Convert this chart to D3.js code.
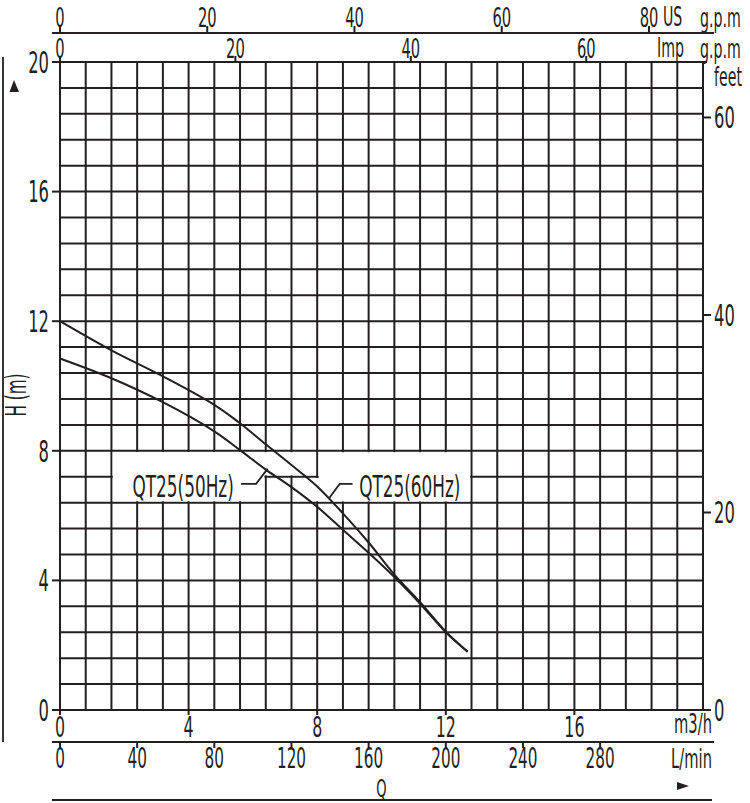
<!DOCTYPE html>
<html><head><meta charset="utf-8">
<script src="https://cdn.jsdelivr.net/npm/d3@7"></script>
<style>html,body{margin:0;padding:0;background:#fff;}svg{display:block;}</style>
</head><body>
<script>
// ---- data ----
const flowTicks = [0, 4, 8, 12, 16];                 // m3/h
const lpmTicks = [0, 40, 80, 120, 160, 200, 240, 280]; // L/min
const usTicks = [0, 20, 40, 60, 80];                 // US g.p.m
const impTicks = [0, 20, 40, 60];                    // Imp g.p.m
const headTicks = [0, 4, 8, 12, 16, 20];             // m
const feetTicks = [0, 20, 40, 60];                   // feet

const flow60 = [0, 1.6, 3.2, 4.8, 5.6, 6.4, 7.2, 8.0, 8.8, 9.6, 10.4, 11.2, 12.0, 12.68];
const head60 = [12.0, 11.1, 10.3, 9.42, 8.85, 8.2, 7.56, 6.9, 6.07, 5.17, 4.18, 3.33, 2.42, 1.8];
const flow50 = [0, 1.6, 3.2, 4.8, 5.6, 6.4, 7.2, 8.0, 8.8, 9.6, 10.4, 11.2, 12.0, 12.68];
const head50 = [10.85, 10.24, 9.5, 8.6, 8.02, 7.42, 6.88, 6.27, 5.56, 4.85, 4.1, 3.28, 2.4, 1.8];

const label50 = "QT25(50Hz)";
const label60 = "QT25(60Hz)";

const FLOW_MAX = 20, HEAD_MAX = 20, GRID_STEP = 0.8;
const LPM_PER_M3H = 1000 / 60;
const M3H_PER_USGPM = 0.229;
const M3H_PER_IMPGPM = 0.2728;
const FT_PER_M = 3.28084;

// ---- setup ----
const W = 750, H = 803;
const INK = "#231f20";
const FONT = "'Liberation Sans Narrow','DejaVu Sans Condensed','Liberation Sans',sans-serif";
const svg = d3.select("body").append("svg").attr("width", W).attr("height", H)
  .attr("font-family", FONT).attr("fill", INK);

const x = d3.scaleLinear().domain([0, FLOW_MAX]).range([60, 703]);
const y = d3.scaleLinear().domain([0, HEAD_MAX]).range([710, 62]);
const xL = d3.scaleLinear().domain([0, FLOW_MAX * LPM_PER_M3H]).range(x.range());
const xUS = d3.scaleLinear().domain([0, FLOW_MAX / M3H_PER_USGPM]).range(x.range());
const xImp = d3.scaleLinear().domain([0, FLOW_MAX / M3H_PER_IMPGPM]).range(x.range());
const yFt = d3.scaleLinear().domain([0, HEAD_MAX * FT_PER_M]).range(y.range());

// measure font to get condensed look
const probe = svg.append("text").attr("font-size", 30).text("0123456789");
const dw = probe.node().getComputedTextLength() / 10;
probe.remove();
const sx = 10.4 / dw;

function txt(px, py, str, size = 30, anchor = "middle", rot = 0) {
  const g = svg.append("g").attr("transform", `translate(${px},${py}) rotate(${rot}) scale(${sx},1)`);
  g.append("text").attr("text-anchor", anchor).attr("dy", "0.36em")
    .attr("font-size", size).text(str);
}
function line(x1, y1, x2, y2, w = 2) {
  svg.append("line").attr("x1", x1).attr("y1", y1).attr("x2", x2).attr("y2", y2)
    .attr("stroke", INK).attr("stroke-width", w);
}

// ---- grid ----
const gridVals = d3.range(0, FLOW_MAX + 0.001, GRID_STEP);
const grid = svg.append("g").attr("stroke", INK).attr("stroke-width", 2);
grid.selectAll("line.v").data(gridVals).join("line")
  .attr("x1", d => x(d)).attr("x2", d => x(d)).attr("y1", y(0)).attr("y2", y(HEAD_MAX));
grid.selectAll("line.h").data(gridVals).join("line")
  .attr("y1", d => y(d)).attr("y2", d => y(d)).attr("x1", x(0)).attr("x2", x(FLOW_MAX));

// white label areas clearing the grid
const clearBoxes = [
  [1.6, 6.4, 6.4, 8.0], [1.6, 8.0, 7.2, 8.0],
  [8.0, 12.8, 6.4, 8.0], [7.2, 12.8, 6.4, 7.2]
];
const ins = 1.4;
svg.selectAll("rect.clr").data(clearBoxes).join("rect")
  .attr("x", d => x(d[0]) + ins).attr("width", d => x(d[1]) - x(d[0]) - 2 * ins)
  .attr("y", d => y(d[3]) + ins).attr("height", d => y(d[2]) - y(d[3]) - 2 * ins)
  .attr("fill", "#fff");

// ---- axes lines ----
line(52, y(HEAD_MAX), 707, y(HEAD_MAX));   // top grid line extended
line(52, y(0), 710, y(0));                 // bottom grid line extended
line(52, 33, 714, 33);                      // US gpm line
line(52, 742, 714, 742);                    // L/min line
line(52, 800, 712, 800);                    // bottom line
line(3, 57, 3, 742, 1.8);                   // left vertical line

// left head axis
headTicks.forEach(h => { line(x(0) - 8, y(h), x(0), y(h)); txt(49, y(h), String(h), 30, "end"); });
// right feet axis
feetTicks.forEach(f => { line(x(FLOW_MAX), yFt(f), x(FLOW_MAX) + 8, yFt(f)); txt(x(FLOW_MAX) + 11, yFt(f), String(f), 30, "start"); });
txt(714, 77, "feet", 26, "start");

// bottom m3/h
flowTicks.forEach(q => { line(x(q), y(0), x(q), y(0) + 5); txt(x(q), 727, String(q), 29); });
txt(712, 723, "m3/h", 27, "end");
// L/min
lpmTicks.forEach(l => { line(xL(l), 742, xL(l), 748); txt(xL(l), 758, String(l), 28); });
txt(712, 758, "L/min", 27, "end");
txt(x(10), 788, "Q", 24);
svg.append("path").attr("d", "M677,782L677,790L689,786Z").attr("fill", INK);

// top US gpm
usTicks.forEach(u => { line(xUS(u), 26, xUS(u), 33); txt(xUS(u), 17, String(u), 27); });
txt(663, 17, "US", 26, "start");
txt(700, 18, "g.p.m", 26, "start");
// Imp gpm
impTicks.forEach(u => { line(xImp(u), 56, xImp(u), y(HEAD_MAX)); txt(xImp(u), 48, String(u), 27); });
txt(657, 48, "Imp", 26, "start");
txt(700, 49, "g.p.m", 26, "start");

// H (m)
txt(16, 395, "H (m)", 28, "middle", -90);
svg.append("path").attr("d", "M14,80L9.5,92L19,92Z").attr("fill", INK);

// ---- curves ----
const lineGen = d3.line().x(d => x(d[0])).y(d => y(d[1])).curve(d3.curveCatmullRom.alpha(0.5));
const c60 = flow60.map((q, i) => [q, head60[i]]);
const c50 = flow50.map((q, i) => [q, head50[i]]);
[c60, c50].forEach(c => svg.append("path").attr("d", lineGen(c))
  .attr("fill", "none").attr("stroke", INK).attr("stroke-width", 2));

// labels and leaders
const leaderGen = d3.line().x(d => x(d[0])).y(d => y(d[1]));
const lead50 = [[5.63, 6.98], [6.1, 6.98], [6.46, 7.45]];
const lead60 = [[9.1, 6.98], [8.7, 6.98], [8.38, 6.55]];
[lead50, lead60].forEach(l => svg.append("path").attr("d", leaderGen(l))
  .attr("fill", "none").attr("stroke", INK).attr("stroke-width", 1.8));
txt(x(3.83), y(6.91), label50, 31);
txt(x(10.88), y(6.91), label60, 31);
</script>
</body></html>
